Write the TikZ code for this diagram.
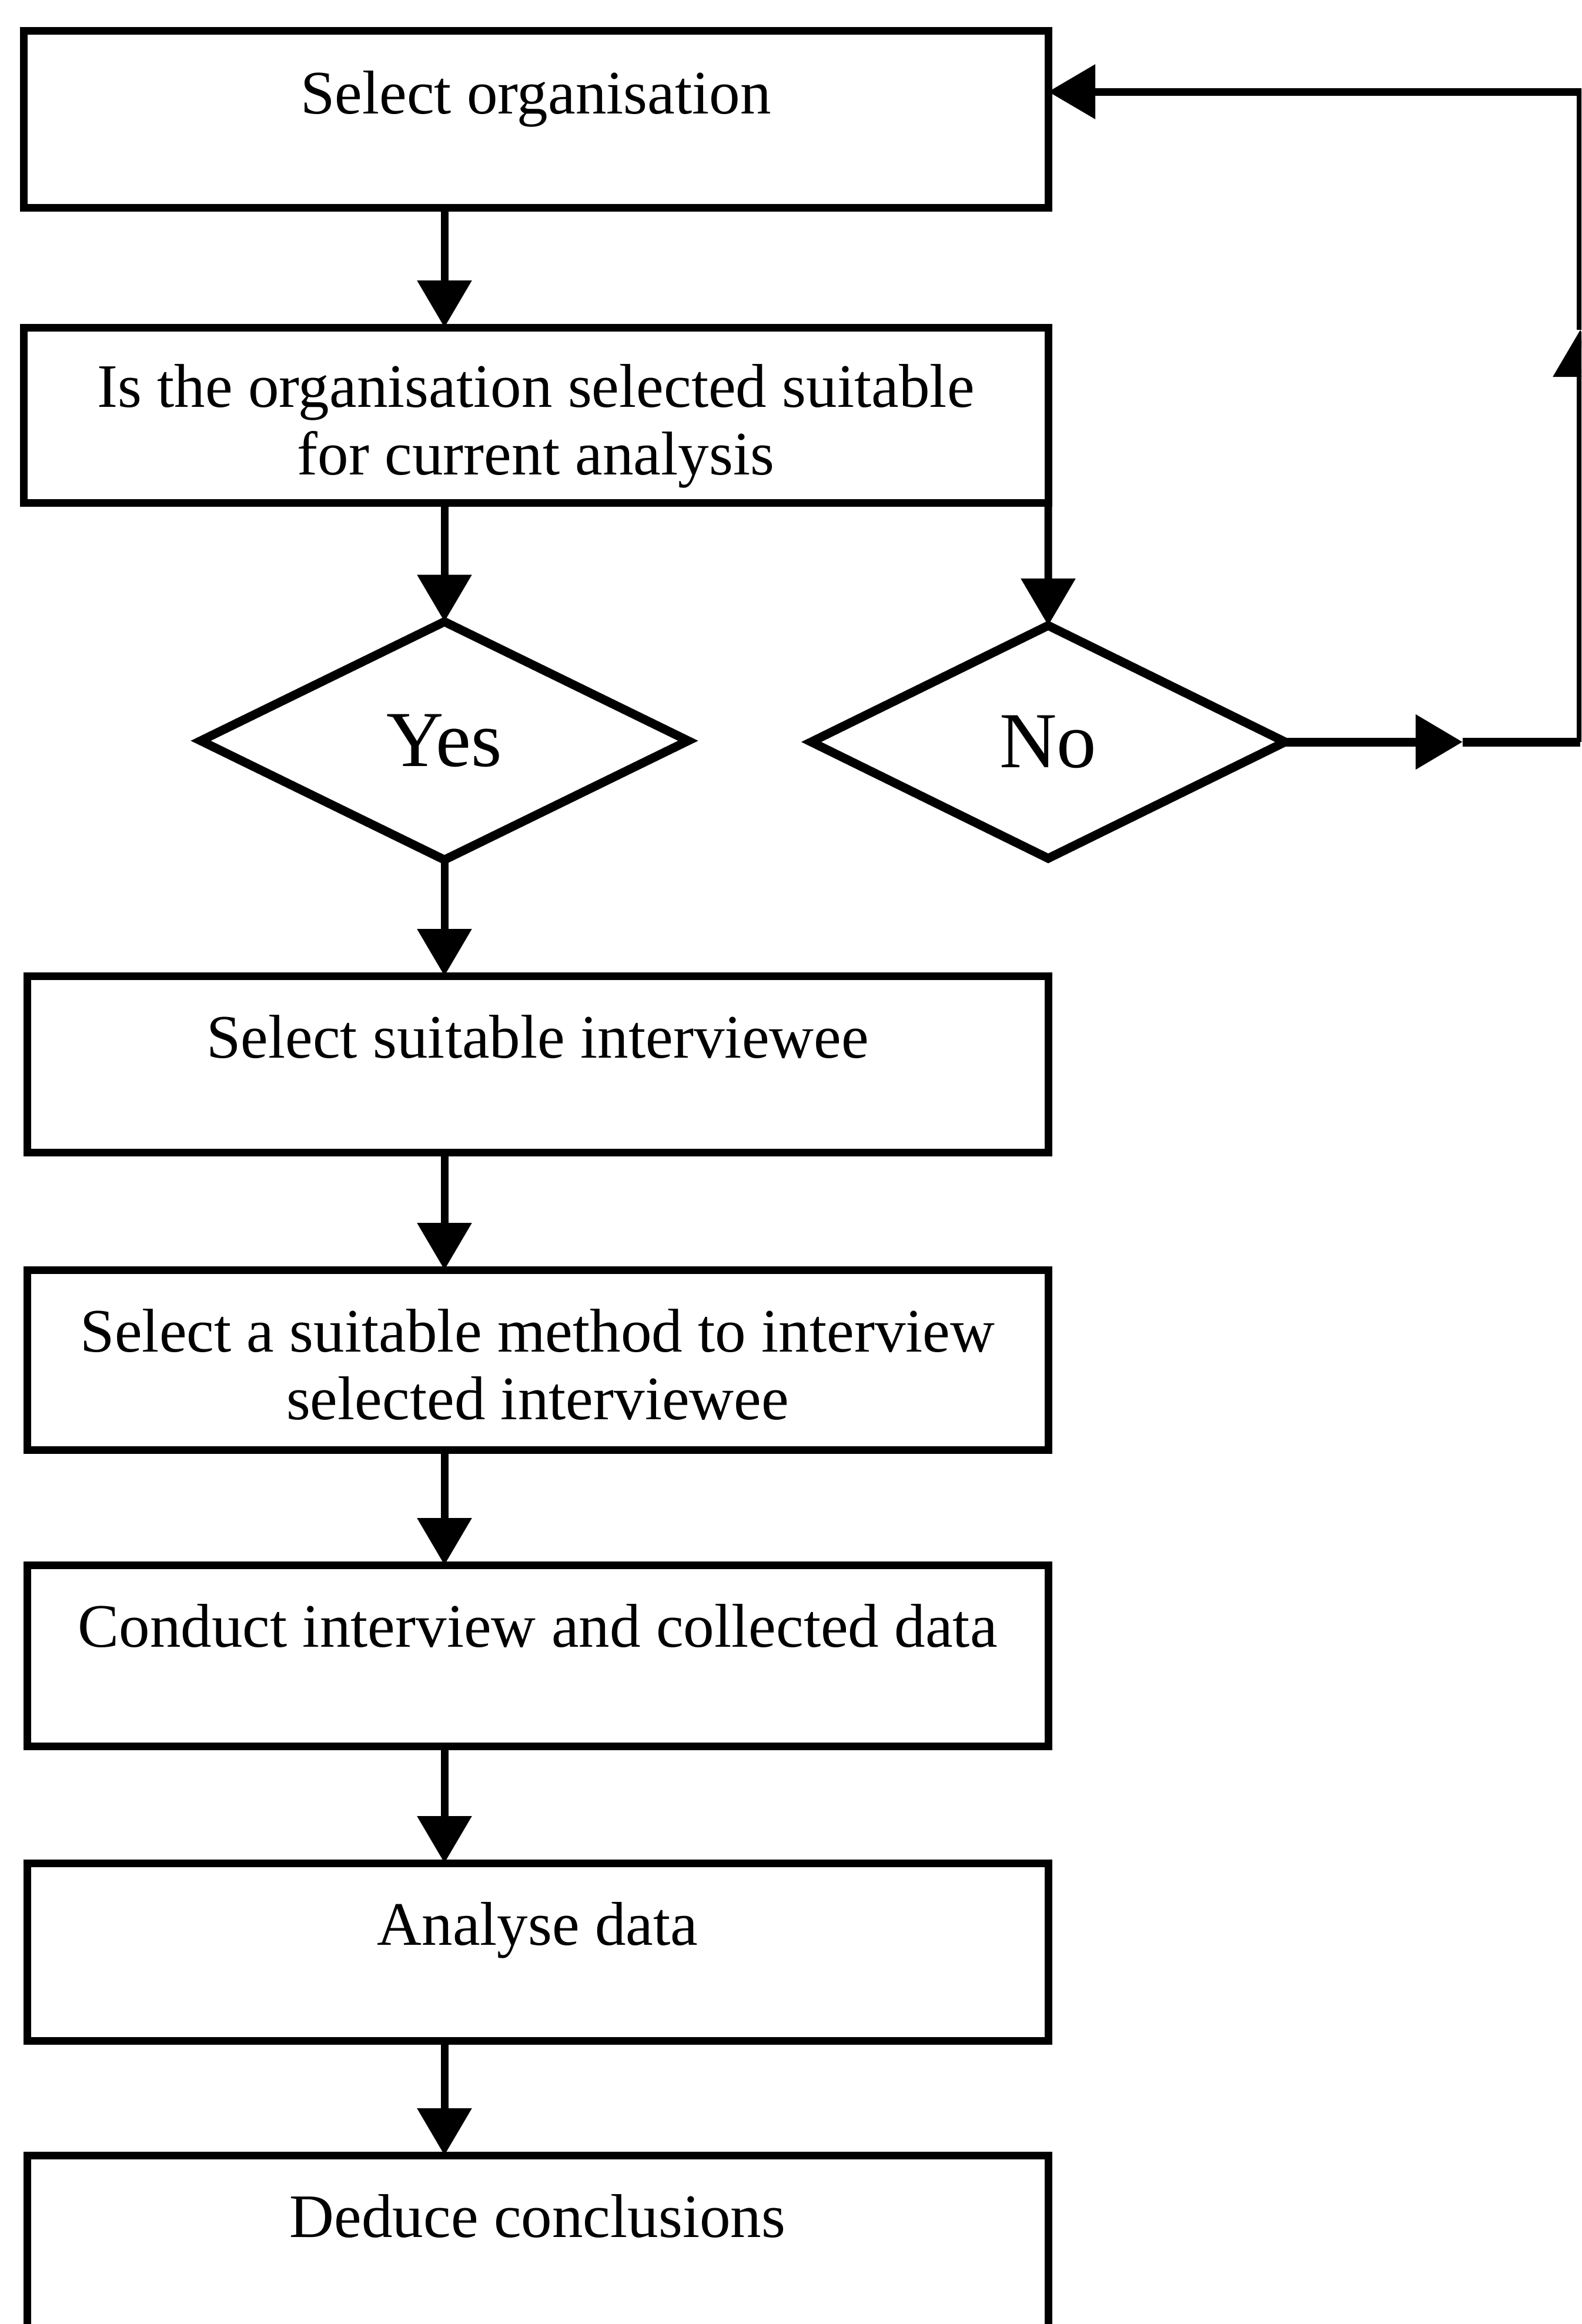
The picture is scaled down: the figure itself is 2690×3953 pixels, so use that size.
\documentclass[tikz,border=0pt]{standalone}
\usepackage{fontspec}
\setmainfont{Liberation Serif}
\usetikzlibrary{shapes.geometric,arrows.meta}
\begin{document}
\begin{tikzpicture}[x=0.1mm,y=-0.1mm,
  stroke/.style={line width=1.3mm},
  box/.style={draw, stroke, rectangle, inner sep=0pt, outer sep=0pt,
    anchor=north west, minimum width=#1},
  box/.default=174.3mm,
  txt/.style={anchor=north, inner sep=0pt, align=center,
    font=\fontsize{29.9pt}{32.7pt}\selectfont},
  choice/.style={draw, line width=1.5mm, diamond, inner sep=0pt, outer sep=0pt,
    font=\fontsize{38.4pt}{40pt}\selectfont},
  arr/.style={stroke, -{Triangle[length=8mm,width=9mm]}},
  link/.style={stroke}
]
\useasboundingbox (0,0) rectangle (2690,3953);
\clip (0,0) rectangle (2690,3953);

% process boxes
\node[box, minimum height=30.1mm] (b1) at (40,52) {};
\node[box, minimum height=29.8mm] (b2) at (40,557) {};
\node[box=173.7mm, minimum height=30.0mm] (b3) at (46,1660) {};
\node[box=173.7mm, minimum height=30.6mm] (b4) at (46,2160) {};
\node[box=173.7mm, minimum height=30.8mm] (b5) at (46,2662) {};
\node[box=173.7mm, minimum height=30.2mm] (b6) at (46,3169) {};
\node[box=173.7mm, minimum height=40.0mm] (b7) at (46,3666) {};

% box labels, set near the top edge
\node[txt] (t1) at ([yshift=-6.8mm]b1.north) {Select organisation};
\node[txt] (t2) at ([yshift=-6.2mm]b2.north) {Is the organisation selected suitable\\for current analysis};
\node[txt] (t3) at ([yshift=-6.6mm]b3.north) {Select suitable interviewee};
\node[txt] (t4) at ([yshift=-6.6mm]b4.north) {Select a suitable method to interview\\selected interviewee};
\node[txt] (t5) at ([yshift=-6.6mm]b5.north) {Conduct interview and collected data};
\node[txt] (t6) at ([yshift=-6.6mm]b6.north) {Analyse data};
\node[txt] (t7) at ([yshift=-6.6mm]b7.north) {Deduce conclusions};

% decisions
\node[choice, minimum width=82.9mm, minimum height=40.5mm] (yes) at (756,1260) {Yes};
\node[choice, minimum width=80.6mm, minimum height=39.6mm] (no) at (1783,1262) {No};

% main flow
\draw[arr] (b1.south -| yes.north) -- (b2.north -| yes.north);
\draw[arr] (b2.south -| yes.north) -- (yes.north);
\draw[arr] (b2.south east) -- (no.north);
\draw[arr] (yes.south) -- (yes.south |- b3.north);
\draw[arr] (b3.south -| yes.north) -- (b4.north -| yes.north);
\draw[arr] (b4.south -| yes.north) -- (b5.north -| yes.north);
\draw[arr] (b5.south -| yes.north) -- (b6.north -| yes.north);
\draw[arr] (b6.south -| yes.north) -- (b7.north -| yes.north);

% loop back from "No" to the first box
\coordinate (rtip) at (2488,1262);
\coordinate (rcorner) at (2688,1262);
\coordinate (utip) at (2688,561);
\coordinate (tcorner) at (2688,156);
\draw[arr, line width=1.5mm] (no.east) -- (rtip);
\draw[link, line width=1.5mm] (rtip) -- (rcorner);
\draw[arr] (rcorner) -- (utip);
\draw[arr] (utip) -- (tcorner) -- (b1.east |- tcorner);
\end{tikzpicture}
\end{document}
